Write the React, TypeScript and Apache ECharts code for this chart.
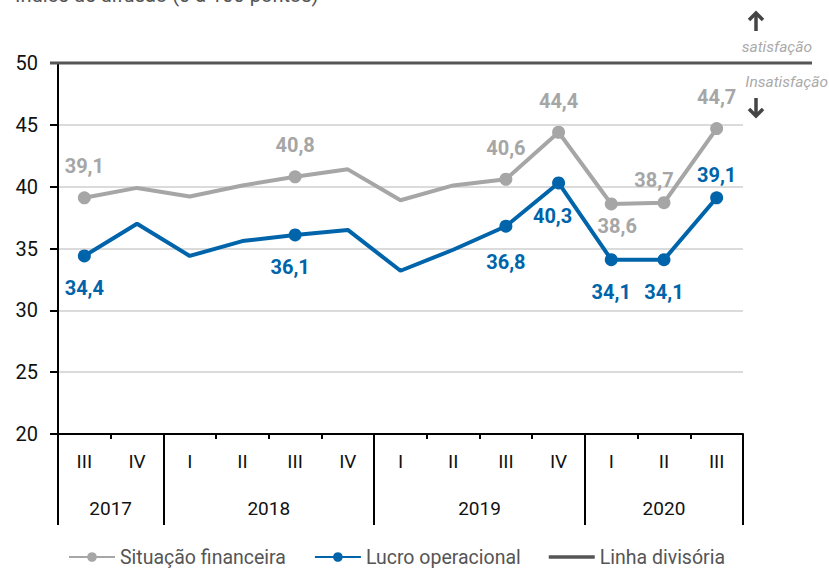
import React, { useEffect, useRef } from "react";
import * as echarts from "echarts";

const quarters = ["III", "IV", "I", "II", "III", "IV", "I", "II", "III", "IV", "I", "II", "III"];
const years = ["2017", "2018", "2019", "2020"];
const yearBounds = [0, 2, 6, 10, 13];
const situacao = [39.1, 39.9, 39.2, 40.1, 40.8, 41.4, 38.9, 40.1, 40.6, 44.4, 38.6, 38.7, 44.7];
const lucro = [34.4, 37.0, 34.4, 35.6, 36.1, 36.5, 33.2, 34.9, 36.8, 40.3, 34.1, 34.1, 39.1];
const markedIdx = [0, 4, 8, 9, 10, 11, 12];
const yTicks = [20, 25, 30, 35, 40, 45, 50];
const divisoria = 50;

// label placement (style only)
const situacaoLabelPos: Record<number, [string, number, number]> = {
  0: ["top", 15, 0], 4: ["top", 15, 0], 8: ["top", 15, 0], 9: ["top", 15, 0],
  10: ["bottom", 6, 6], 11: ["top", 6, -10], 12: ["top", 15, 0],
};
const lucroLabelPos: Record<number, [string, number, number]> = {
  0: ["bottom", 16, 0], 4: ["bottom", 16, -5], 8: ["bottom", 19, 0], 9: ["bottom", 17, -6],
  10: ["bottom", 16, 0], 11: ["bottom", 16, 0], 12: ["top", 6, 0],
};

const GREY = "#a6a6a6";
const BLUE = "#0064aa";
const FONT = "Roboto";

function buildData(vals: number[], pos: Record<number, [string, number, number]>, color: string) {
  return vals.map((v, i) => {
    const marked = markedIdx.includes(i);
    const p = pos[i];
    return {
      value: v,
      symbol: marked ? "circle" : "none",
      label: marked
        ? {
            show: true,
            position: p[0],
            distance: p[1],
            offset: [p[2], 0],
            color,
            fontFamily: FONT,
            fontWeight: "bold",
            fontSize: 20,
            formatter: () => v.toFixed(1).replace(".", ","),
          }
        : { show: false },
    };
  });
}

export default function App() {
  const ref = useRef<HTMLDivElement>(null);
  useEffect(() => {
    if (!ref.current) return;
    const chart = echarts.init(ref.current, undefined, { renderer: "svg" });
    const option: any = {
      animation: false,
      textStyle: { fontFamily: FONT },
      grid: { left: 58, right: 86, top: 63, bottom: 135 },
      legend: {
        left: 63,
        top: 542,
        itemWidth: 46,
        itemHeight: 12,
        itemGap: 28,
        textStyle: { fontSize: 19.5, color: "#555", fontFamily: FONT },
        data: [
          "Situação financeira",
          "Lucro operacional",
          { name: "Linha divisória", icon: "path://M0 0H100V8H0Z" },
        ],
      },
      xAxis: [
        {
          type: "category",
          data: quarters,
          boundaryGap: true,
          axisLine: { lineStyle: { color: "#000", width: 2 } },
          axisTick: { show: true, interval: 0, length: 5, lineStyle: { color: "#000", width: 2 } },
          axisLabel: { interval: 0, margin: 18, fontSize: 19, color: "#111", fontFamily: FONT },
          splitLine: { show: false },
        },
        {
          type: "value",
          min: 0,
          max: 13,
          position: "bottom",
          axisLine: { show: false },
          splitLine: { show: false },
          axisTick: {
            show: true,
            customValues: yearBounds,
            length: 91,
            lineStyle: { color: "#000", width: 2 },
          },
          axisLabel: {
            show: true,
            customValues: yearBounds.slice(0, -1).map((b, i) => (b + yearBounds[i + 1]) / 2),
            formatter: (val: number) => {
              const i = yearBounds.findIndex((b, k) => k < years.length && (b + yearBounds[k + 1]) / 2 === val);
              return i >= 0 ? years[i] : "";
            },
            margin: 65,
            fontSize: 19,
            color: "#111",
            fontFamily: FONT,
          },
        },
      ],
      yAxis: {
        type: "value",
        min: yTicks[0],
        max: yTicks[yTicks.length - 1],
        interval: 5,
        axisLine: { show: true, lineStyle: { color: "#000", width: 2 } },
        axisTick: { show: true, length: 8, lineStyle: { color: "#000", width: 2 } },
        axisLabel: { margin: 20, fontSize: 20, color: "#111", fontFamily: FONT },
        splitLine: { show: true, lineStyle: { color: "#cfcfcf", width: 1.5 } },
      },
      series: [
        {
          name: "Situação financeira",
          type: "line",
          data: buildData(situacao, situacaoLabelPos, GREY),
          symbol: "circle",
          symbolSize: 13,
          lineStyle: { color: GREY, width: 4 },
          itemStyle: { color: GREY },
          z: 3,
        },
        {
          name: "Lucro operacional",
          type: "line",
          data: buildData(lucro, lucroLabelPos, BLUE),
          symbol: "circle",
          symbolSize: 13,
          lineStyle: { color: BLUE, width: 4 },
          itemStyle: { color: BLUE },
          z: 4,
        },
        {
          name: "Linha divisória",
          type: "line",
          data: [],
          symbol: "none",
          lineStyle: { color: "#555", width: 4 },
          itemStyle: { color: "#555" },
        },
      ],
    };
    chart.setOption(option);
    const y50 = chart.convertToPixel({ yAxisIndex: 0 }, divisoria) as number;
    const x0 = chart.convertToPixel({ xAxisIndex: 1 }, 0) as number;
    chart.setOption({
      graphic: [
        {
          type: "text",
          left: 15,
          top: -15,
          style: { text: "Índice de difusão (0 a 100 pontos)", fontSize: 20, fill: "#555", fontFamily: FONT },
        },
        {
          type: "line",
          shape: { x1: x0 - 8, y1: y50, x2: 812, y2: y50 },
          style: { stroke: "#555", lineWidth: 3 },
          z: 10,
        },
        {
          type: "text",
          x: 812,
          y: y50 - 16,
          style: { text: "satisfação", fontSize: 15.5, fontStyle: "italic", fill: "#aaa", align: "right", verticalAlign: "middle", fontFamily: FONT },
        },
        {
          type: "text",
          x: 828,
          y: y50 + 19,
          style: { text: "Insatisfação", fontSize: 15.5, fontStyle: "italic", fill: "#aaa", align: "right", verticalAlign: "middle", fontFamily: FONT },
        },
        {
          type: "line",
          shape: { x1: 756, y1: 13, x2: 756, y2: 31 },
          style: { stroke: "#444", lineWidth: 3.5 },
        },
        {
          type: "polyline",
          shape: { points: [[749, 20], [756, 13], [763, 20]] },
          style: { stroke: "#444", lineWidth: 3.5, fill: null },
        },
        {
          type: "line",
          shape: { x1: 756, y1: 98, x2: 756, y2: 116 },
          style: { stroke: "#444", lineWidth: 3.5 },
        },
        {
          type: "polyline",
          shape: { points: [[749, 109], [756, 116], [763, 109]] },
          style: { stroke: "#444", lineWidth: 3.5, fill: null },
        },
      ],
    });
    return () => chart.dispose();
  }, []);
  return <div ref={ref} style={{ width: 829, height: 569, position: "absolute", left: 0, top: 0 }} />;
}
